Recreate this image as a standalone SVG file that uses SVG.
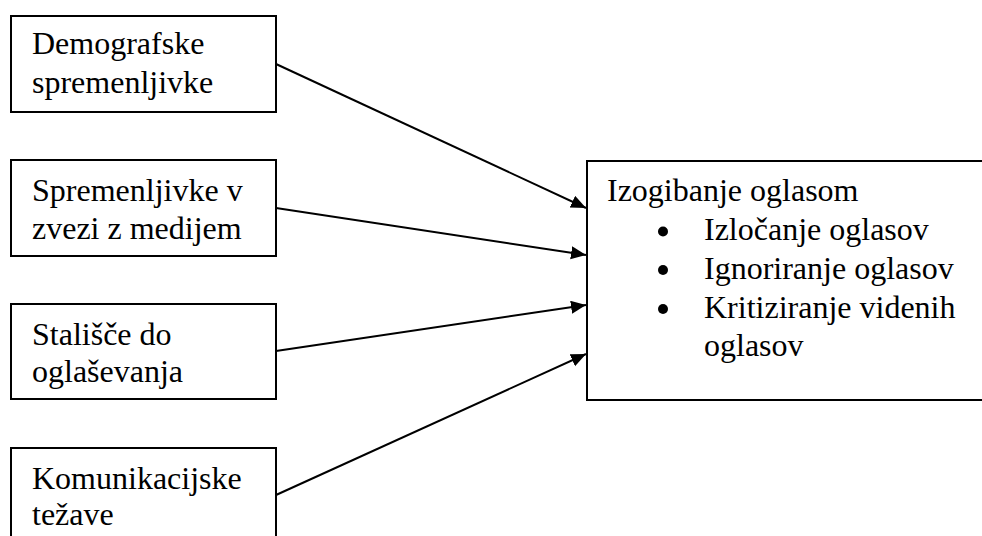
<svg xmlns="http://www.w3.org/2000/svg" width="982" height="536" viewBox="0 0 982 536">
  <defs>
    <marker id="arrow" markerUnits="userSpaceOnUse" markerWidth="16" markerHeight="14" refX="15" refY="6.5" orient="auto">
      <path d="M0,0 L15,6.5 L0,13 Z" fill="#000"/>
    </marker>
  </defs>
  <style>
    .box { fill: #fff; stroke: #000; stroke-width: 2; }
    .t { font-family: "Liberation Serif", "Times New Roman", serif; font-size: 32px; fill: #000; }
    .edge { stroke: #000; stroke-width: 2; fill: none; marker-end: url(#arrow); }
  </style>
  <rect width="982" height="536" fill="#fff"/>

  <g id="n1">
    <rect class="box" x="11" y="16" width="265" height="96"/>
    <text class="t" x="32" y="54">Demografske</text>
    <text class="t" x="32" y="92.5">spremenljivke</text>
  </g>
  <g id="n2">
    <rect class="box" x="11" y="160" width="265" height="96"/>
    <text class="t" x="32" y="201">Spremenljivke v</text>
    <text class="t" x="32" y="238.5">zvezi z medijem</text>
  </g>
  <g id="n3">
    <rect class="box" x="11" y="304" width="265" height="95"/>
    <text class="t" x="32" y="345">Stališče do</text>
    <text class="t" x="32" y="382">oglaševanja</text>
  </g>
  <g id="n4">
    <rect class="box" x="11" y="448" width="265" height="100"/>
    <text class="t" x="32" y="488.5">Komunikacijske</text>
    <text class="t" x="32" y="525">težave</text>
  </g>
  <g id="target">
    <rect class="box" x="587" y="161" width="410" height="239"/>
    <text class="t" x="607" y="200.5">Izogibanje oglasom</text>
    <circle cx="663" cy="231.5" r="5"/>
    <text class="t" x="704" y="240">Izločanje oglasov</text>
    <circle cx="663" cy="270" r="5"/>
    <text class="t" x="704" y="279">Ignoriranje oglasov</text>
    <circle cx="663" cy="309" r="5"/>
    <text class="t" x="704" y="318">Kritiziranje videnih</text>
    <text class="t" x="704" y="356">oglasov</text>
  </g>

  <g id="connectors">
    <line class="edge" x1="276" y1="64" x2="586" y2="208"/>
    <line class="edge" x1="276" y1="208" x2="586" y2="255"/>
    <line class="edge" x1="276" y1="351" x2="586" y2="305"/>
    <line class="edge" x1="276" y1="495" x2="586" y2="354"/>
  </g>
</svg>
